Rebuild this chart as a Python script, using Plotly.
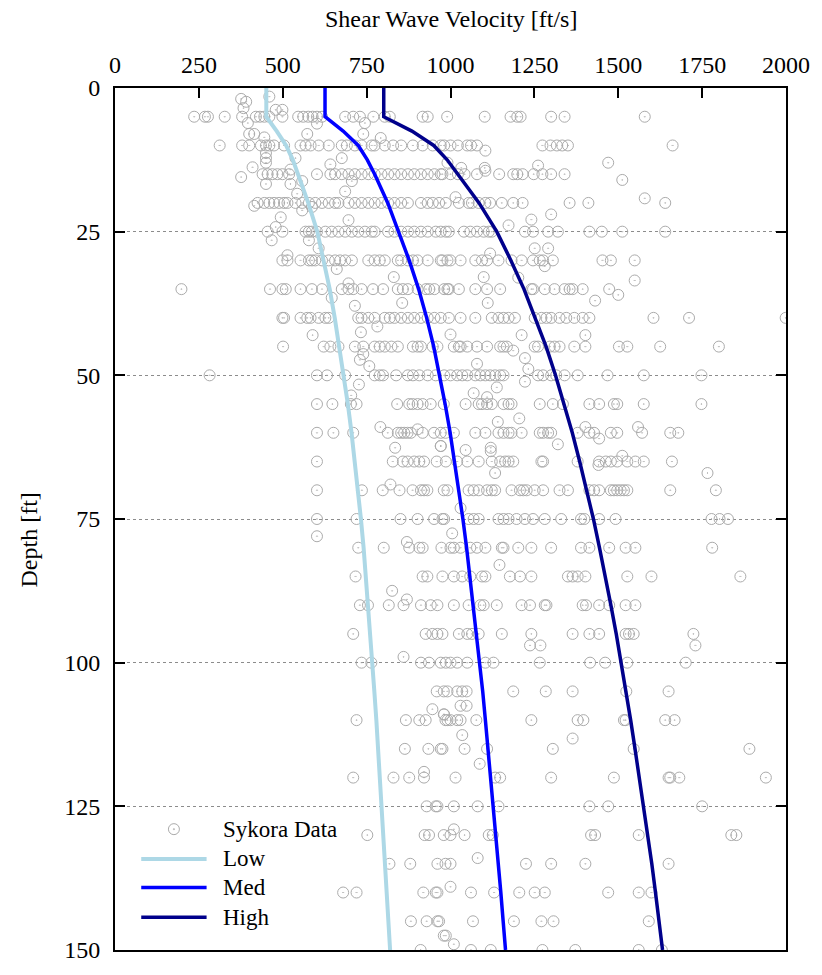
import plotly.graph_objects as go

# ---------------- data ----------------
# Sykora data: shear wave velocity (ft/s) measured at each depth row (ft)
row_5 = [236, 268, 277, 327, 379, 420, 432, 445, 460, 499, 546, 561, 576, 589, 602, 617, 686, 710, 730, 770, 804,
         819, 917, 932, 990, 1102, 1179, 1199, 1209, 1300, 1340, 1579]
row_10 = [312, 379, 400, 435, 450, 460, 474, 504, 553, 568, 583, 607, 637, 676, 691, 715, 735, 765, 774, 804, 829,
          853, 888, 917, 947, 971, 981, 1000, 1022, 1050, 1061, 1079, 1274, 1298, 1317, 1333, 1350, 1662]
row_15 = [440, 455, 469, 484, 499, 519, 602, 642, 656, 676, 696, 715, 735, 755, 774, 794, 814, 833, 853, 873, 892,
          912, 932, 952, 971, 976, 1000, 1022, 1042, 1079, 1145, 1187, 1199, 1215, 1248, 1274, 1300, 1340]
row_20 = [425, 445, 460, 474, 489, 504, 514, 538, 558, 578, 597, 617, 637, 656, 666, 696, 715, 735, 755, 774, 794,
          814, 833, 853, 873, 912, 932, 947, 966, 986, 1025, 1054, 1064, 1084, 1104, 1118, 1153, 1187, 1215, 1355,
          1411, 1640]
row_25 = [455, 499, 568, 578, 587, 602, 627, 646, 666, 686, 706, 725, 745, 765, 774, 814, 833, 853, 873, 892, 912,
          932, 956, 971, 986, 995, 1040, 1059, 1079, 1099, 1114, 1123, 1222, 1246, 1291, 1320, 1414, 1451, 1512,
          1640]
row_30 = [499, 514, 553, 578, 587, 597, 617, 637, 656, 671, 686, 706, 755, 774, 789, 804, 843, 853, 873, 888, 902,
          932, 971, 976, 991, 1000, 1030, 1074, 1094, 1109, 1143, 1182, 1212, 1246, 1266, 1276, 1305, 1453, 1478,
          1549]
row_35 = [198, 462, 499, 509, 553, 587, 617, 676, 696, 710, 735, 769, 799, 843, 858, 873, 902, 927, 937, 952, 981,
          991, 995, 1025, 1074, 1109, 1148, 1241, 1246, 1281, 1310, 1340, 1355, 1364, 1394, 1473]
row_40 = [499, 504, 553, 573, 583, 607, 627, 637, 725, 735, 755, 774, 804, 819, 833, 853, 873, 892, 912, 932, 952,
          971, 995, 1030, 1074, 1123, 1143, 1158, 1173, 1192, 1251, 1271, 1286, 1300, 1325, 1345, 1369, 1394, 1414,
          1605, 1711, 1999]
row_45 = [501, 622, 642, 666, 715, 740, 774, 789, 804, 824, 843, 888, 902, 912, 947, 961, 1010, 1025, 1030, 1050,
          1079, 1109, 1148, 1158, 1168, 1251, 1261, 1296, 1310, 1325, 1369, 1402, 1502, 1527, 1625, 1800]
row_50 = [282, 602, 632, 686, 774, 789, 799, 838, 873, 888, 907, 932, 956, 981, 1000, 1020, 1035, 1050, 1074, 1089,
          1104, 1118, 1133, 1148, 1158, 1261, 1276, 1300, 1315, 1340, 1379, 1468, 1576, 1748]
row_55 = [602, 648, 703, 720, 841, 877, 887, 902, 917, 941, 980, 1045, 1084, 1094, 1109, 1123, 1158, 1173, 1182,
          1266, 1305, 1335, 1414, 1443, 1487, 1497, 1576, 1748]
row_60 = [602, 651, 710, 813, 843, 853, 862, 872, 882, 917, 951, 971, 985, 1010, 1074, 1104, 1143, 1158, 1173, 1182,
          1212, 1266, 1276, 1291, 1300, 1379, 1414, 1428, 1478, 1497, 1571, 1655, 1679]
row_65 = [602, 828, 858, 872, 892, 907, 921, 959, 986, 1020, 1050, 1084, 1123, 1148, 1163, 1173, 1187, 1271, 1276,
          1379, 1443, 1463, 1478, 1497, 1527, 1551, 1576, 1660]
row_70 = [602, 736, 798, 848, 887, 912, 921, 931, 980, 991, 1054, 1069, 1084, 1109, 1123, 1133, 1182, 1207, 1217,
          1227, 1251, 1276, 1325, 1350, 1414, 1428, 1443, 1478, 1487, 1497, 1507, 1517, 1527, 1655, 1791]
row_75 = [602, 720, 851, 902, 951, 976, 981, 1054, 1069, 1084, 1143, 1158, 1173, 1197, 1222, 1246, 1281, 1330,
          1389, 1399, 1443, 1492, 1778, 1802, 1827]
row_80 = [725, 801, 877, 907, 917, 973, 1000, 1010, 1030, 1059, 1079, 1104, 1153, 1158, 1202, 1241, 1300, 1389,
          1414, 1473, 1522, 1551, 1780]
row_85 = [717, 917, 931, 976, 1010, 1035, 1059, 1094, 1104, 1177, 1207, 1241, 1350, 1364, 1379, 1402, 1527, 1599,
          1864]
row_90 = [730, 754, 816, 860, 912, 941, 961, 1010, 1054, 1089, 1099, 1138, 1212, 1237, 1281, 1286, 1394, 1404,
          1443, 1473, 1522, 1551]
row_95 = [710, 926, 946, 961, 976, 1025, 1050, 1064, 1084, 1153, 1241, 1364, 1414, 1443, 1522, 1532, 1546, 1724]
row_100 = [735, 764, 912, 936, 971, 986, 1000, 1020, 1050, 1104, 1128, 1266, 1416, 1461, 1527, 1701]
row_105 = [959, 980, 991, 1020, 1035, 1048, 1187, 1284, 1364, 1524, 1650]
row_110 = [720, 867, 907, 926, 985, 991, 1000, 1020, 1030, 1077, 1241, 1379, 1396, 1517, 1522, 1640, 1668]
row_115 = [864, 934, 971, 976, 1042, 1109, 1305, 1546, 1891]
row_120 = [710, 830, 877, 921, 1015, 1133, 1148, 1300, 1487, 1650, 1655, 1682, 1940]
row_125 = [929, 956, 961, 1010, 1081, 1143, 1414, 1470, 1750]
row_130 = [752, 923, 936, 980, 1000, 1042, 1114, 1126, 1419, 1431, 1561, 1837, 1852]
row_135 = [818, 880, 961, 985, 1000, 1225, 1300, 1402, 1650]
row_140 = [680, 720, 919, 956, 961, 1061, 1130, 1205, 1251, 1281, 1470, 1561, 1599]
row_145 = [882, 929, 961, 966, 1067, 1189, 1271, 1307, 1591]
row_150 = [911, 1061, 1120, 1274, 1372, 1561, 1630]

row_depths = [5, 10, 15, 20, 25, 30, 35, 40, 45, 50, 55, 60, 65, 70, 75, 80, 85, 90, 95, 100,
              105, 110, 115, 120, 125, 130, 135, 140, 145, 150]
row_values = [row_5, row_10, row_15, row_20, row_25, row_30, row_35, row_40, row_45, row_50, row_55, row_60,
              row_65, row_70, row_75, row_80, row_85, row_90, row_95, row_100, row_105, row_110, row_115,
              row_120, row_125, row_130, row_135, row_140, row_145, row_150]

# Sykora points lying between the regular rows
extra_depth = [1.9, 2.4, 3.5, 1.5, 3.8, 3.8,
               6.1, 6.2, 6.1, 8.0, 8.0, 8.6, 8.0, 8.0, 8.7,
               10.9, 11.3, 12.2, 13.0, 12.2, 13.3, 12.2, 13.8, 14.2, 13.0, 13.9, 13.9, 13.5, 13.0, 16.0,
               15.5, 14.4, 16.7, 16.7, 16.2, 16.2, 18.4, 18.0,
               20.5, 19.0, 19.2, 22.5, 21.3, 20.7, 23.0, 22.0, 22.9, 23.9,
               24.2, 26.5, 26.5, 27.9, 27.9, 27.9,
               29.1, 31.5, 32.9, 31.0, 28.8, 33.5, 32.9,
               36.5, 34.0, 37.9, 37.4, 36.0, 37.0, 37.4, 33.0,
               43.0, 42.5, 41.5, 42.9, 43.0, 43.0,
               46.3, 47.3, 48.4, 45.7, 47.0, 48.0, 48.9,
               51.6, 53.5, 53.1, 53.8, 52.1, 51.1, 57.5, 58.1,
               59.0, 59.4, 62.6, 62.3, 59.0, 61.0, 59.0, 62.3, 63.0, 62.6, 63.2, 62.0, 67.0, 64.0, 65.6, 67.0,
               69.0, 73.1, 78.0, 77.5, 79.0, 83.0, 87.5, 89.0,
               97.0, 97.0, 97.0, 99.0,
               108.1, 109.0, 107.5, 107.5, 109.0, 112.6, 113.2, 117.6, 119.0,
               129.0, 134.0, 139.0, 147.5, 147.5, 149.0]
extra_vs = [376, 391, 383, 460, 499, 479,
            396, 602, 745, 400, 415, 445, 573, 740, 792,
            1104, 450, 450, 450, 538, 642, 676, 410, 523, 991, 1032, 1102, 1261, 1470, 1512,
            376, 1104, 450, 523, 558, 706, 543, 686,
            415, 1015, 1579, 494, 558, 587, 696, 1300, 1241, 1173,
            479, 467, 578, 607, 1251, 1291,
            514, 661, 831, 1281, 1118, 1549, 1099,
            646, 696, 715, 856, 1500, 1431, 1111, 1202,
            589, 733, 782, 1000, 1212, 1402,
            740, 730, 758, 1187, 1222, 1079, 1232,
            727, 704, 1069, 1109, 1138, 1222, 1205, 1141,
            791, 902, 835, 971, 1402, 1443, 1559, 971, 1045, 1120, 1120, 1320, 1133, 1512, 1441, 1766,
            821, 1030, 602, 1005, 870, 1146, 826, 870,
            1237, 1268, 1730, 860,
            946, 980, 1030, 1048, 981, 1035, 1364, 1087, 921,
            1010, 1081, 1000, 980, 986, 1010]

# Model profiles (ft/s) versus depth (ft)
curve_depth = [0, 5, 7.5, 10, 12.5, 15, 20, 25, 30, 35, 40, 45, 50, 55, 60, 65, 70, 75, 80, 85, 90, 95, 100,
               105, 110, 115, 120, 125, 130, 135, 140, 145, 150]
low_vs = [451, 451, 482, 510, 530, 546, 576, 603, 622, 640, 655, 669, 682, 694, 705, 715, 724, 733, 741, 748,
          755, 761, 767, 773, 779, 784, 790, 795, 800, 805, 810, 815, 820]
med_vs = [626, 626, 680, 725, 752, 774, 813, 845, 877, 905, 929, 950, 968, 984, 999, 1012, 1025, 1037, 1048,
          1058, 1068, 1078, 1087, 1096, 1104, 1112, 1120, 1128, 1136, 1143, 1150, 1157, 1164]
high_vs = [801, 801, 885, 950, 990, 1022, 1085, 1138, 1180, 1219, 1253, 1285, 1313, 1339, 1363, 1385, 1406, 1426,
           1444, 1462, 1478, 1494, 1509, 1523, 1537, 1550, 1563, 1576, 1588, 1600, 1611, 1622, 1632]

x_ticks = [0, 250, 500, 750, 1000, 1250, 1500, 1750, 2000]
y_ticks = [0, 25, 50, 75, 100, 125, 150]

series_names = ["Sykora Data", "Low", "Med", "High"]
series_colors = ["#ababab", "#add8e6", "#0000ff", "#00008b"]
x_title = "Shear Wave Velocity [ft/s]"
y_title = "Depth [ft]"

# ---------------- build ----------------
sy_depth, sy_vs = [], []
for d, vals in zip(row_depths, row_values):
    sy_depth += [d] * len(vals)
    sy_vs += vals
sy_depth += extra_depth
sy_vs += extra_vs

FONT = "Liberation Serif"
TICK_SIZE = 24
fig = go.Figure()
fig.add_trace(go.Scatter(
    x=sy_vs, y=sy_depth, mode="markers", name=series_names[0], showlegend=False,
    marker=dict(symbol="circle-open-dot", size=11, color=series_colors[0], line=dict(width=1)),
))
for name, vals, col, w in [(series_names[1], low_vs, series_colors[1], 4),
                           (series_names[2], med_vs, series_colors[2], 3.5),
                           (series_names[3], high_vs, series_colors[3], 3.5)]:
    fig.add_trace(go.Scatter(x=vals, y=curve_depth, mode="lines", name=name, showlegend=False,
                             line=dict(color=col, width=w)))

# Manual legend (bottom-left inside plot)
shapes = []
annotations = []
leg_y = [0.1402, 0.1057, 0.0724, 0.0379]
shapes.append(dict(type="circle", xref="paper", yref="paper", xsizemode="pixel", ysizemode="pixel",
                   xanchor=0.0878, yanchor=leg_y[0], x0=-5.5, x1=5.5, y0=-5.5, y1=5.5,
                   line=dict(color=series_colors[0], width=1)))
shapes.append(dict(type="circle", xref="paper", yref="paper", xsizemode="pixel", ysizemode="pixel",
                   xanchor=0.0878, yanchor=leg_y[0], x0=-0.7, x1=0.7, y0=-0.7, y1=0.7,
                   fillcolor=series_colors[0], line=dict(color=series_colors[0], width=0.5)))
for i, w in zip([1, 2, 3], [4, 3.5, 3.5]):
    shapes.append(dict(type="line", xref="paper", yref="paper", x0=0.0391, x1=0.1365,
                       y0=leg_y[i], y1=leg_y[i], line=dict(color=series_colors[i], width=w)))
for i in range(4):
    annotations.append(dict(x=0.1587, y=leg_y[i], xref="paper", yref="paper", text=series_names[i],
                            showarrow=False, xanchor="left", yanchor="middle",
                            font=dict(family=FONT, size=23, color="black")))

# Axis titles placed as in the reference
annotations.append(dict(x=0.5, y=1.0805, xref="paper", yref="paper", text=x_title, showarrow=False,
                        xanchor="center", yanchor="middle", font=dict(family=FONT, size=24, color="black")))
annotations.append(dict(x=-0.1285, y=0.476, xref="paper", yref="paper", text=y_title, showarrow=False,
                        textangle=-90, xanchor="center", yanchor="middle",
                        font=dict(family=FONT, size=24, color="black")))

fig.update_layout(
    width=822, height=975,
    margin=dict(l=115, r=30, t=88, b=17),
    paper_bgcolor="white", plot_bgcolor="white",
    font=dict(family=FONT, size=TICK_SIZE, color="black"),
    shapes=shapes, annotations=annotations,
    xaxis=dict(
        range=[0, 2000], side="top", tickvals=x_ticks, ticktext=[str(v) for v in x_ticks],
        ticks="inside", ticklen=10, tickwidth=1.5, tickcolor="black",
        showline=True, linewidth=2, linecolor="black", mirror=True,
        showgrid=False, zeroline=False, ticklabelstandoff=3,
        tickfont=dict(family=FONT, size=TICK_SIZE, color="black"),
    ),
    yaxis=dict(
        range=[150, 0], tickvals=y_ticks, ticktext=[str(v) for v in y_ticks],
        ticks="inside", ticklen=10, tickwidth=1.5, tickcolor="black",
        showline=True, linewidth=2, linecolor="black", mirror="ticks",
        showgrid=True, gridcolor="#8c8c8c", griddash="dot", gridwidth=1, zeroline=False,
        ticklabelstandoff=8,
        tickfont=dict(family=FONT, size=TICK_SIZE, color="black"),
    ),
)

fig.write_html("out.html")
